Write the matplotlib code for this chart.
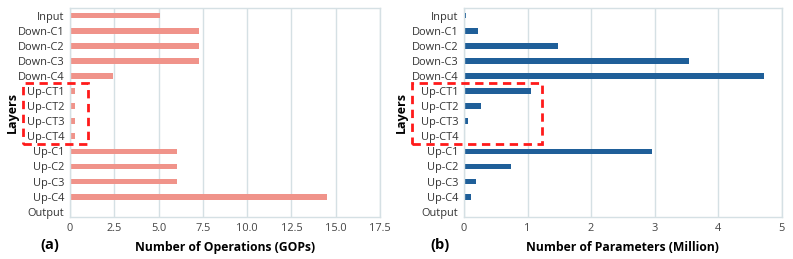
import matplotlib
matplotlib.use("Agg")
import matplotlib.pyplot as plt
from matplotlib.patches import Rectangle

# Datos
layers = ["Input", "Down-C1", "Down-C2", "Down-C3", "Down-C4",
          "Up-CT1", "Up-CT2", "Up-CT3", "Up-CT4",
          "Up-C1", "Up-C2", "Up-C3", "Up-C4", "Output"]
gops = [5.08, 7.27, 7.27, 7.27, 2.45,
        0.28, 0.28, 0.28, 0.28,
        6.06, 6.06, 6.06, 14.5, 0.05]
params = [0.04, 0.22, 1.48, 3.54, 4.72,
          1.05, 0.27, 0.07, 0.01,
          2.95, 0.74, 0.19, 0.115, 0.01]
gops_ticks = [0, 2.5, 5.0, 7.5, 10.0, 12.5, 15.0, 17.5]
gops_tick_labels = ["0", "2.5", "5.0", "7.5", "10.0", "12.5", "15.0", "17.5"]
params_ticks = [0, 1, 2, 3, 4, 5]

plt.rcParams['font.family'] = ['Open Sans', 'DejaVu Sans']

fig = plt.figure(figsize=(7.93, 2.59), dpi=100)
ax1 = fig.add_axes([0.0883, 0.162, 0.391, 0.807])
ax2 = fig.add_axes([0.585, 0.162, 0.401, 0.807])

grid_color = '#d5e0e4'
text_color = '#333333'

panels = [
    (ax1, gops, '#f0938a', gops_ticks, gops_tick_labels, 17.5,
     "Number of Operations (GOPs)", "(a)", -0.097, -0.165),
    (ax2, params, '#1f5f99', params_ticks, [str(t) for t in params_ticks], 5,
     "Number of Parameters (Million)", "(b)", -0.107, -0.175),
]

for ax, vals, color, ticks, tlabels, xmax, xlabel, tag, tag_x, lab_x in panels:
    y = list(range(len(layers)))
    ax.barh(y, vals, height=0.38, color=color, zorder=2)
    ax.set_yticks(y)
    ax.set_yticklabels(layers, fontsize=7.9, color=text_color)
    ax.set_ylim(len(layers) - 1 + 0.35, -0.5)
    ax.set_xlim(0, xmax)
    ax.set_xticks(ticks)
    ax.set_xticklabels(tlabels, fontsize=7.9, color='#444444')
    ax.tick_params(length=0, pad=4)
    ax.xaxis.grid(True, color=grid_color, linewidth=1, zorder=0)
    ax.set_axisbelow(True)
    for sp in ax.spines.values():
        sp.set_color(grid_color)
        sp.set_linewidth(1)
    ax.set_xlabel(xlabel, fontsize=8.7, fontweight='bold', color='black', labelpad=5)
    ax.set_ylabel("Layers", fontsize=9, fontweight='bold', color='black')
    ax.yaxis.set_label_coords(lab_x, 0.5)
    ax.text(tag_x, -0.134, tag, transform=ax.transAxes, fontsize=10.5,
            fontweight='bold', ha='left', va='center')

# Recuadros punteados
for x0, x1 in [(23, 88), (412, 542)]:
    W, H = 793, 259
    rect = Rectangle((x0 / W, 1 - 144 / H), (x1 - x0) / W, (144 - 83) / H,
                     transform=fig.transFigure, fill=False, edgecolor='#ff1a1a',
                     linewidth=2, linestyle=(0, (3, 2)), zorder=10)
    fig.add_artist(rect)

fig.savefig("out.png", dpi=100)
